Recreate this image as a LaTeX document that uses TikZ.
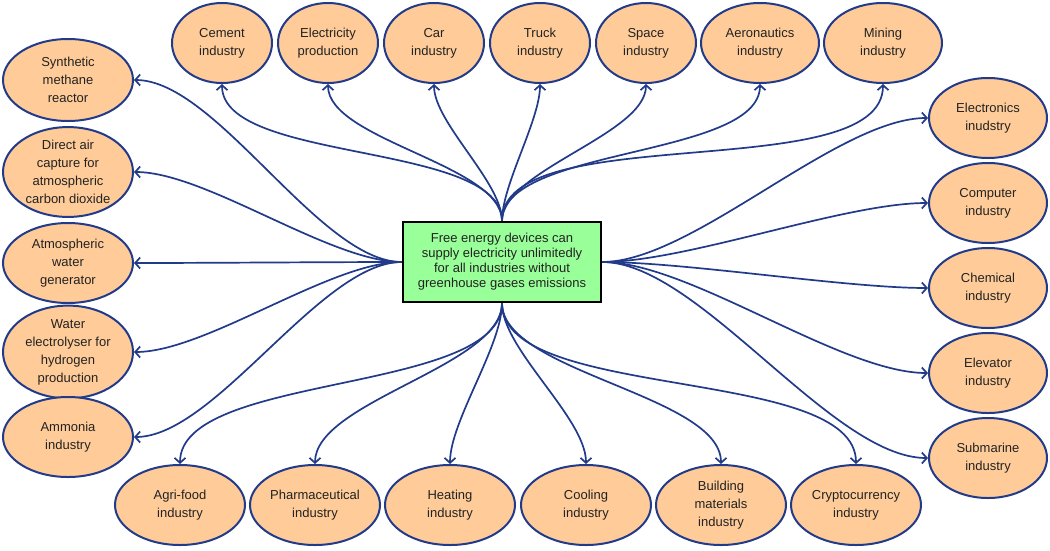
\documentclass[tikz,border=0pt]{standalone}
\usepackage{fontspec}
\setmainfont{Liberation Sans}
\usetikzlibrary{shapes.geometric,arrows.meta}
\definecolor{navy}{HTML}{213A8A}
\definecolor{peach}{HTML}{FFCC99}
\definecolor{mint}{HTML}{99FF99}
\definecolor{ink}{HTML}{222222}
\begin{document}
\begin{tikzpicture}[x=1pt,y=-1pt,
  every node/.style={font=\fontsize{13pt}{18pt}\selectfont, text=ink, align=center},
  topic/.style={ellipse, draw=navy, line width=2pt, fill=peach, inner sep=0pt,
                minimum width=100pt, minimum height=80pt},
  wide/.style={topic, minimum width=118pt},
  wider/.style={topic, minimum width=130pt},
  hub/.style={rectangle, draw=black, line width=2.4pt, fill=mint,
              font=\fontsize{13pt}{15pt}\selectfont,
              minimum width=198pt, minimum height=80pt, inner sep=2pt},
  link/.style={draw=navy, line width=1.7pt, looseness=0.65,
               -{Straight Barb[length=5pt,width=11pt]}}
]
\useasboundingbox (0,0) rectangle (1050,550);

% central statement
\node[hub] (c) at (502,262) {Free energy devices can\\supply electricity unlimitedly\\for all industries without\\greenhouse gases emissions};

% top row
\node[topic] (cement) at (222,43) {Cement\\industry};
\node[topic] (elec)   at (328,43) {Electricity\\production};
\node[topic] (car)    at (434,43) {Car\\industry};
\node[topic] (truck)  at (540,43) {Truck\\industry};
\node[topic] (space)  at (646,43) {Space\\industry};
\node[wide]  (aero)   at (760,43) {Aeronautics\\industry};
\node[wide]  (mining) at (883,43) {Mining\\industry};

% left column
\node[wider, minimum height=82pt] (meth)  at (68,80)  {Synthetic\\methane\\reactor};
\node[wider, minimum height=84pt] (dac)   at (68,172) {Direct air\\capture for\\atmospheric\\carbon dioxide};
\node[wider, minimum height=80pt] (awg)   at (68,263) {Atmospheric\\water\\generator};
\node[wider, minimum height=82pt] (hydro) at (68,352) {Water\\electrolyser for\\hydrogen\\production};
\node[wider, minimum height=80pt] (ammo)  at (68,437) {Ammonia\\industry};

% right column
\node[wide] (elx)  at (988,118) {Electronics\\inudstry};
\node[wide] (comp) at (988,203) {Computer\\industry};
\node[wide] (chem) at (988,288) {Chemical\\industry};
\node[wide] (elev) at (988,373) {Elevator\\industry};
\node[wide] (sub)  at (988,458) {Submarine\\industry};

% bottom row
\node[wider] (agri)   at (180,505) {Agri-food\\industry};
\node[wider] (pharma) at (315,505) {Pharmaceutical\\industry};
\node[wider] (heat)   at (450,505) {Heating\\industry};
\node[wider] (cool)   at (586,505) {Cooling\\industry};
\node[wider] (build)  at (721,505) {Building\\materials\\industry};
\node[wider] (crypto) at (856,505) {Cryptocurrency\\industry};

% connectors
\foreach \t in {cement,elec,car,truck,space,aero,mining}
  \draw[link] (c.north) to[out=90,in=-90] (\t.south);
\foreach \t in {meth,dac,awg,hydro,ammo}
  \draw[link] (c.west) to[out=180,in=0] (\t.east);
\foreach \t in {elx,comp,chem,elev,sub}
  \draw[link] (c.east) to[out=0,in=180] (\t.west);
\foreach \t in {agri,pharma,heat,cool,build,crypto}
  \draw[link] (c.south) to[out=-90,in=90] (\t.north);
\end{tikzpicture}
\end{document}
